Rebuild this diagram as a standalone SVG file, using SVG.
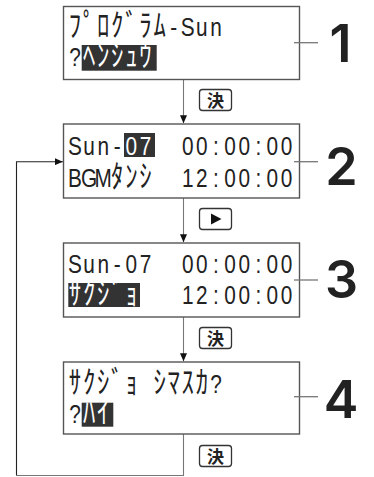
<svg xmlns="http://www.w3.org/2000/svg" width="374" height="477" viewBox="0 0 374 477">
<style>
.box{fill:#fff;stroke:#555;stroke-width:1.4}
.hl{fill:#333}
.t{font-family:"Liberation Sans","Noto Sans CJK JP",sans-serif;font-size:26px;fill:#222;text-anchor:middle}
.k{font-family:"Noto Sans CJK JP",sans-serif;font-size:31px}
.w{fill:#fff}
.tick{stroke:#777;stroke-width:1.3;fill:none}
.num{font-family:Inter,"Liberation Sans",sans-serif;font-weight:600;font-size:52px;fill:#222}
.key{fill:#fff;stroke:#333;stroke-width:1.3}
.kt{font-family:"Noto Sans CJK JP",sans-serif;font-weight:bold;font-size:17px;fill:#222;text-anchor:middle}
.c{fill:none;stroke:#777;stroke-width:1.1}
.cd{fill:none;stroke:#222;stroke-width:1.1}
</style>
<defs>
<marker id="ah" markerUnits="userSpaceOnUse" markerWidth="8" markerHeight="7" refX="8" refY="3.5" orient="auto">
<path d="M0,0 L8,3.5 L0,7 z" fill="#111"/>
</marker>
</defs>
<g id="connectors">
<path class="c" d="M183.5 79.7 V123.3" marker-end="url(#ah)"/>
<path class="c" d="M183.5 198 V242.3" marker-end="url(#ah)"/>
<path class="c" d="M183.5 317 V361.3" marker-end="url(#ah)"/>
<path class="c" d="M183.5 434 V475.5 H16.5"/>
<path class="cd" d="M16.5 475.5 V161.7 H62.8" marker-end="url(#ah)"/>
</g>
<g id="key1">
<rect class="key" x="199.5" y="89.5" width="32" height="21" rx="3"/>
<text class="kt" x="215.5" y="106.5">決</text>
</g>
<g id="key2">
<rect class="key" x="199.5" y="208.5" width="32" height="21" rx="3"/>
<path d="M211 213.5 L221.5 219 L211 224.5 z" fill="#111"/>
</g>
<g id="key3">
<rect class="key" x="199.5" y="327.5" width="32" height="21" rx="3"/>
<text class="kt" x="215.5" y="344.5">決</text>
</g>
<g id="key4">
<rect class="key" x="199.5" y="445.5" width="32" height="21" rx="3"/>
<text class="kt" x="215.5" y="462.5">決</text>
</g>
<g id="screen1">
<rect class="box" x="63.5" y="6.5" width="236" height="73"/>
<text class="t" transform="scale(0.8 1)" y="36.5"><tspan class="k" x="93.75 111.375 129 146.625 164.25 181.875 199.5">ﾌﾟﾛｸﾞﾗﾑ</tspan><tspan x="217.125 234.75 252.375 270">-Sun</tspan></text>
<rect class="hl" x="81.7" y="45" width="75" height="25.7"/>
<text class="t" transform="scale(0.8 1)" y="66.5"><tspan x="93.75">?</tspan><tspan class="k w" x="111.375 129 146.625 164.25 181.875">ﾍﾝｼｭｳ</tspan></text>
<line class="tick" x1="294" y1="42.7" x2="318" y2="42.7"/>
<text class="num" x="340.5" y="61.7" text-anchor="middle">1</text>
</g>
<g id="screen2">
<rect class="box" x="63.5" y="124" width="236" height="74"/>
<rect class="hl" x="124" y="133" width="31" height="24"/>
<text class="t" transform="scale(0.8 1)" y="155"><tspan x="93.75 111.375 129 146.625">Sun-</tspan><tspan class="w" x="164.25 181.875">07</tspan></text>
<text class="t" transform="scale(0.8 1)" x="234.75 252.375 270 287.625 305.25 322.875 340.5 358.125" y="155">00:00:00</text>
<text class="t" transform="scale(0.8 1)" y="187"><tspan x="93.75 111.375 129">BGM</tspan><tspan class="k" x="146.625 164.25 181.875">ﾀﾝｼ</tspan></text>
<text class="t" transform="scale(0.8 1)" x="234.75 252.375 270 287.625 305.25 322.875 340.5 358.125" y="187">12:00:00</text>
<line class="tick" x1="294" y1="161.7" x2="318" y2="161.7"/>
<text class="num" x="341.5" y="185" text-anchor="middle">2</text>
</g>
<g id="screen3">
<rect class="box" x="63.5" y="243" width="236" height="74"/>
<text class="t" transform="scale(0.8 1)" x="93.75 111.375 129 146.625 164.25 181.875" y="273.5">Sun-07</text>
<text class="t" transform="scale(0.8 1)" x="234.75 252.375 270 287.625 305.25 322.875 340.5 358.125" y="273.5">00:00:00</text>
<rect class="hl" x="68.3" y="283" width="71.7" height="24"/>
<text class="t k w" transform="scale(0.8 1)" x="93.75 111.375 129 146.625 164.25" y="304">ｻｸｼﾞｮ</text>
<text class="t" transform="scale(0.8 1)" x="234.75 252.375 270 287.625 305.25 322.875 340.5 358.125" y="304">12:00:00</text>
<line class="tick" x1="294" y1="280" x2="318" y2="280"/>
<text class="num" x="341.5" y="297.5" text-anchor="middle">3</text>
</g>
<g id="screen4">
<rect class="box" x="63.5" y="362" width="236" height="72"/>
<text class="t" transform="scale(0.8 1)" y="393"><tspan class="k" x="93.75 111.375 129 146.625 164.25 181.875 199.5 217.125 234.75 252.375">ｻｸｼﾞｮ ｼﾏｽｶ</tspan><tspan x="270">?</tspan></text>
<rect class="hl" x="81.7" y="402.7" width="31.6" height="24"/>
<text class="t" transform="scale(0.8 1)" y="423"><tspan x="93.75">?</tspan><tspan class="k w" x="111.375 129">ﾊｲ</tspan></text>
<line class="tick" x1="294" y1="396.7" x2="318" y2="396.7"/>
<text class="num" x="341" y="418.3" text-anchor="middle">4</text>
</g>
</svg>
